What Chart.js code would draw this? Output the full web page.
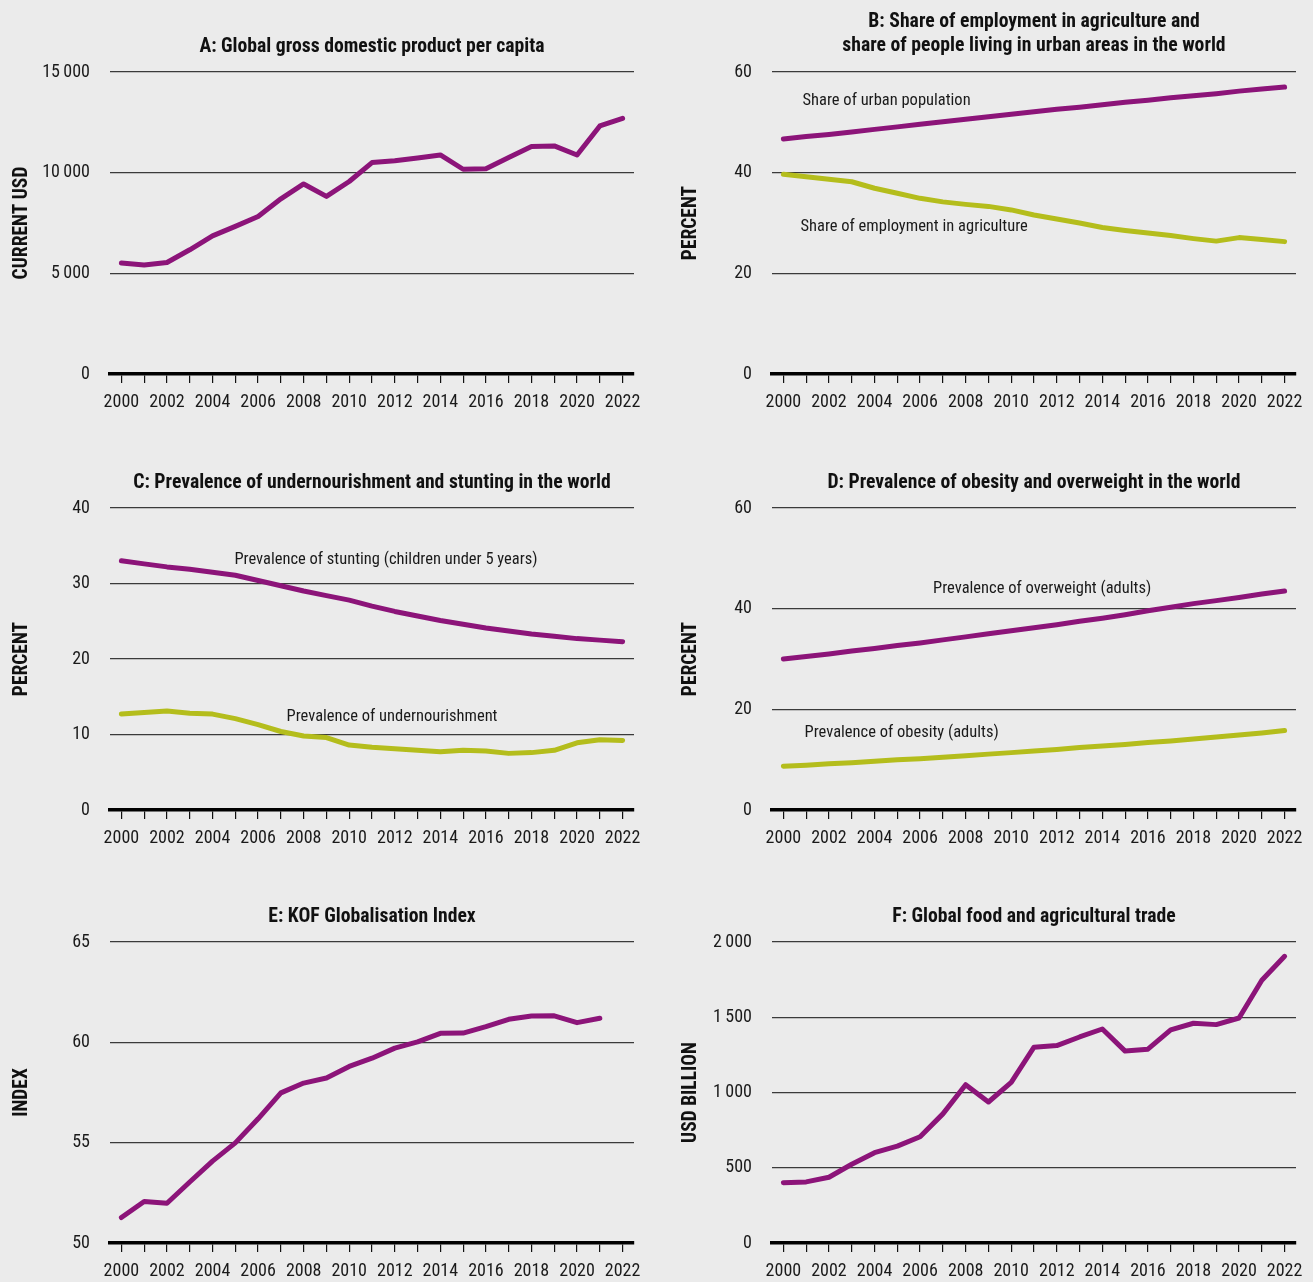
<!DOCTYPE html>
<html>
<head>
<meta charset="utf-8">
<script src="https://cdn.jsdelivr.net/npm/chart.js@4/dist/chart.umd.min.js"></script>
<style>
  html, body { margin:0; padding:0; background:#ebebeb; width:1313px; height:1282px; overflow:hidden; }
  .panel { position:absolute; }
</style>
</head>
<body>
<div class="panel" style="left:0px;top:0px;width:656px;height:440px"><canvas id="cA"></canvas></div>
<div class="panel" style="left:669px;top:0px;width:644px;height:440px"><canvas id="cB"></canvas></div>
<div class="panel" style="left:0px;top:436px;width:656px;height:440px"><canvas id="cC"></canvas></div>
<div class="panel" style="left:669px;top:436px;width:644px;height:440px"><canvas id="cD"></canvas></div>
<div class="panel" style="left:0px;top:870px;width:656px;height:440px"><canvas id="cE"></canvas></div>
<div class="panel" style="left:669px;top:870px;width:644px;height:440px"><canvas id="cF"></canvas></div>
<script>
// ---------- DATA ----------
const years = ['2000','2001','2002','2003','2004','2005','2006','2007','2008','2009','2010',
               '2011','2012','2013','2014','2015','2016','2017','2018','2019','2020','2021','2022'];

const gdpPerCapita = [5510, 5410, 5540, 6170, 6860, 7330, 7820, 8700, 9440, 8820, 9560,
                      10500, 10590, 10730, 10880, 10170, 10200, 10750, 11300, 11330, 10880, 12320, 12700];

const urbanShare = [46.7, 47.2, 47.6, 48.1, 48.6, 49.1, 49.6, 50.1, 50.6, 51.1, 51.6,
                    52.1, 52.6, 53.0, 53.5, 54.0, 54.4, 54.9, 55.3, 55.7, 56.2, 56.6, 57.0];
const agriEmployment = [39.7, 39.2, 38.7, 38.2, 36.9, 35.9, 34.9, 34.2, 33.7, 33.3, 32.6,
                        31.6, 30.8, 30.0, 29.1, 28.5, 28.0, 27.5, 26.9, 26.4, 27.1, 26.7, 26.3];

const stunting = [33.0, 32.6, 32.2, 31.9, 31.5, 31.1, 30.4, 29.7, 29.0, 28.4, 27.8,
                  27.0, 26.3, 25.7, 25.1, 24.6, 24.1, 23.7, 23.3, 23.0, 22.7, 22.5, 22.3];
const undernourishment = [12.7, 12.9, 13.1, 12.8, 12.7, 12.1, 11.3, 10.4, 9.8, 9.6, 8.6,
                          8.3, 8.1, 7.9, 7.7, 7.9, 7.8, 7.5, 7.6, 7.9, 8.9, 9.3, 9.2];

const overweight = [30.0, 30.5, 31.0, 31.6, 32.1, 32.7, 33.2, 33.8, 34.4, 35.0, 35.6,
                    36.2, 36.8, 37.5, 38.1, 38.8, 39.6, 40.3, 41.0, 41.6, 42.2, 42.9, 43.5];
const obesity = [8.7, 8.9, 9.2, 9.4, 9.7, 10.0, 10.2, 10.5, 10.8, 11.1, 11.4,
                 11.7, 12.0, 12.4, 12.7, 13.0, 13.4, 13.7, 14.1, 14.5, 14.9, 15.3, 15.8];

const kofIndex = [51.27, 52.07, 51.98, 53.04, 54.08, 54.99, 56.19, 57.48, 57.97, 58.22, 58.80,
                  59.21, 59.71, 60.02, 60.45, 60.46, 60.78, 61.15, 61.31, 61.32, 60.98, 61.20, null];

const agriTrade = [401, 406, 437, 523, 600, 644, 706, 858, 1052, 937, 1067,
                   1301, 1312, 1369, 1422, 1275, 1288, 1416, 1460, 1451, 1495, 1746, 1905];

// ---------- STYLE ----------
const PURPLE = '#8c1479';
const GREEN = '#b4bd1c';
const FONT = 'Roboto, "DejaVu Sans Condensed", sans-serif';
const REG = 'condensed';          // font-stretch keyword goes into the CSS font shorthand
const BOLD = 'bold condensed';
Chart.defaults.font.family = FONT;
Chart.defaults.font.weight = REG;
Chart.defaults.color = '#1a1a1a';
Chart.defaults.animation = false;

function spaceThousands(v) {
  return String(v).replace(/\B(?=(\d{3})+(?!\d))/g, '\u2009');
}

// annotation text plugin (labels placed in data coordinates)
const lineLabels = {
  id: 'lineLabels',
  afterDatasetsDraw(chart, args, opts) {
    const items = opts.items || [];
    const ctx = chart.ctx;
    ctx.save();
    ctx.font = REG + ' 16.5px ' + FONT;
    ctx.fillStyle = '#1a1a1a';
    ctx.textBaseline = 'middle';
    ctx.textAlign = 'left';
    items.forEach(it => {
      const x = chart.scales.x.getPixelForValue(it.x);
      const y = chart.scales.y.getPixelForValue(it.y);
      ctx.fillText(it.text, x, y);
    });
    ctx.restore();
  }
};

function makeChart(id, cfg) {
  const ds = cfg.series.map(s => ({
    data: s.data,
    borderColor: s.color,
    backgroundColor: s.color,
    borderWidth: 5,
    pointRadius: 0,
    tension: 0,
    borderCapStyle: 'round',
    borderJoinStyle: 'round',
    spanGaps: false
  }));
  const twoLine = cfg.title.length > 1;
  return new Chart(document.getElementById(id), {
    type: 'line',
    data: { labels: years, datasets: ds },
    plugins: [lineLabels],
    options: {
      responsive: true,
      maintainAspectRatio: false,
      layout: { padding: { left: 0, right: cfg.padRight, top: 0, bottom: cfg.padBottom } },
      plugins: {
        legend: { display: false },
        tooltip: { enabled: false },
        title: {
          display: true,
          text: cfg.title,
          fullSize: false,
          color: '#111',
          font: { size: 19.7, weight: BOLD, family: FONT, lineHeight: twoLine ? (24 / 19.7) : (22 / 19.7) },
          padding: twoLine ? { top: 10, bottom: 14 } : { top: 36, bottom: 14 }
        },
        lineLabels: { items: cfg.labels || [] }
      },
      scales: {
        x: {
          type: 'category',
          offset: true,
          grid: { drawOnChartArea: false, drawTicks: true, tickLength: 9, color: '#111', lineWidth: 1.2 },
          border: { display: true, color: '#000', width: 3.5 },
          ticks: {
            autoSkip: false, maxRotation: 0, minRotation: 0, padding: 9,
            color: '#1a1a1a', font: { size: 18, weight: REG },
            callback: function(val, idx) { return idx % 2 === 0 ? this.getLabelForValue(val) : ''; }
          },
          afterFit(scale) { scale.height = 40; }
        },
        y: {
          min: cfg.min, max: cfg.max,
          grid: { drawTicks: false, color: '#3a3a3a', lineWidth: 1.3 },
          border: { display: false },
          ticks: {
            stepSize: cfg.step, padding: 20, color: '#1a1a1a', font: { size: 18, weight: REG },
            callback: v => spaceThousands(v)
          },
          title: {
            display: true, text: cfg.yTitle, color: '#111',
            font: { size: 19.5, weight: BOLD, family: FONT },
            padding: { top: 10, bottom: 0 }
          },
          afterFit(scale) { scale.width = cfg.yWidth; }
        }
      }
    }
  });
}

makeChart('cA', {
  title: ['A: Global gross domestic product per capita'],
  yTitle: 'CURRENT USD', min: 0, max: 15000, step: 5000, yWidth: 110, padRight: 22, padBottom: 26,
  series: [{ data: gdpPerCapita, color: PURPLE }]
});
makeChart('cB', {
  title: ['B: Share of employment in agriculture and', 'share of people living in urban areas in the world'],
  yTitle: 'PERCENT', min: 0, max: 60, step: 20, yWidth: 103, padRight: 17, padBottom: 26,
  series: [{ data: urbanShare, color: PURPLE }, { data: agriEmployment, color: GREEN }],
  labels: [
    { text: 'Share of urban population', x: 0.84, y: 54.2 },
    { text: 'Share of employment in agriculture', x: 0.75, y: 29.2 }
  ]
});
makeChart('cC', {
  title: ['C: Prevalence of undernourishment and stunting in the world'],
  yTitle: 'PERCENT', min: 0, max: 40, step: 10, yWidth: 110, padRight: 22, padBottom: 26,
  series: [{ data: stunting, color: PURPLE }, { data: undernourishment, color: GREEN }],
  labels: [
    { text: 'Prevalence of stunting (children under 5 years)', x: 4.96, y: 33.1 },
    { text: 'Prevalence of undernourishment', x: 7.25, y: 12.3 }
  ]
});
makeChart('cD', {
  title: ['D: Prevalence of obesity and overweight in the world'],
  yTitle: 'PERCENT', min: 0, max: 60, step: 20, yWidth: 103, padRight: 17, padBottom: 26,
  series: [{ data: overweight, color: PURPLE }, { data: obesity, color: GREEN }],
  labels: [
    { text: 'Prevalence of overweight (adults)', x: 6.57, y: 43.9 },
    { text: 'Prevalence of obesity (adults)', x: 0.93, y: 15.3 }
  ]
});
makeChart('cE', {
  title: ['E: KOF Globalisation Index'],
  yTitle: 'INDEX', min: 50, max: 65, step: 5, yWidth: 110, padRight: 22, padBottom: 27,
  series: [{ data: kofIndex, color: PURPLE }]
});
makeChart('cF', {
  title: ['F: Global food and agricultural trade'],
  yTitle: 'USD BILLION', min: 0, max: 2000, step: 500, yWidth: 103, padRight: 17, padBottom: 27,
  series: [{ data: agriTrade, color: PURPLE }]
});
</script>
</body>
</html>
